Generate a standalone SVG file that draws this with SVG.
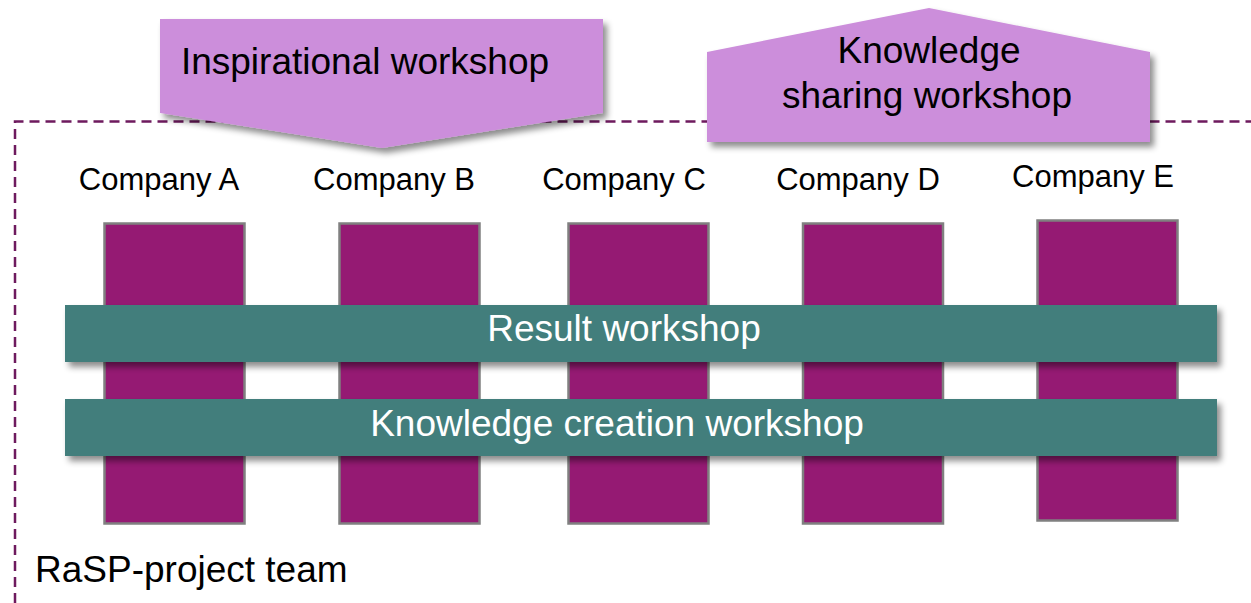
<svg xmlns="http://www.w3.org/2000/svg" width="1251" height="603" viewBox="0 0 1251 603">
  <defs>
    <filter id="sh" x="-5%" y="-20%" width="115%" height="160%">
      <feDropShadow dx="4" dy="5" stdDeviation="3" flood-color="#000" flood-opacity="0.45"/>
    </filter>
    <style>
      .pent { fill: #cc8edb; filter: url(#sh); }
      .comp { fill: #951a73; stroke: #808080; stroke-width: 2.5; }
      .bar { fill: #427e7c; filter: url(#sh); }
      .lbl { font-family: "Liberation Sans", Arial, sans-serif; fill: #000; text-anchor: middle; }
      .big { font-size: 37px; }
      .co { font-size: 31px; }
      .wt { font-family: "Liberation Sans", Arial, sans-serif; fill: #fff; font-size: 37px; text-anchor: middle; }
      .border { fill: none; stroke: #6e1a5e; stroke-width: 2.5; stroke-dasharray: 10 6; }
    </style>
  </defs>
  <rect width="1251" height="603" fill="#fff"/>

  <g id="team">
    <path class="border" d="M15,603 V121.5 H1251"/>
    <text class="lbl" x="35" y="582" font-size="37" style="text-anchor:start">RaSP-project team</text>
  </g>

  <g id="inspirational">
    <polygon class="pent" points="160,19 603,19 603,113 382,148 160,113"/>
    <text class="lbl big" x="365" y="74">Inspirational workshop</text>
  </g>

  <g id="sharing">
    <polygon class="pent" points="707,52 929,8 1150,52 1150,142 707,142"/>
    <text class="lbl big" x="929" y="63">Knowledge</text>
    <text class="lbl big" x="927" y="108">sharing workshop</text>
  </g>

  <g id="companyA">
    <text class="lbl co" x="159" y="190">Company A</text>
    <rect class="comp" x="104.5" y="223.5" width="140" height="300"/>
  </g>
  <g id="companyB">
    <text class="lbl co" x="394" y="190">Company B</text>
    <rect class="comp" x="339.5" y="223.5" width="140" height="300"/>
  </g>
  <g id="companyC">
    <text class="lbl co" x="624" y="190">Company C</text>
    <rect class="comp" x="568.5" y="223.5" width="140" height="300"/>
  </g>
  <g id="companyD">
    <text class="lbl co" x="858" y="190">Company D</text>
    <rect class="comp" x="803" y="223.5" width="140" height="300"/>
  </g>
  <g id="companyE">
    <text class="lbl co" x="1093" y="187">Company E</text>
    <rect class="comp" x="1037.5" y="220.5" width="140" height="300"/>
  </g>

  <g id="result">
    <rect class="bar" x="65" y="305" width="1152" height="57"/>
    <text class="wt" x="624" y="341">Result workshop</text>
  </g>
  <g id="creation">
    <rect class="bar" x="65" y="399" width="1152" height="57"/>
    <text class="wt" x="617" y="436">Knowledge creation workshop</text>
  </g>

  <g id="connectors"/>
</svg>
